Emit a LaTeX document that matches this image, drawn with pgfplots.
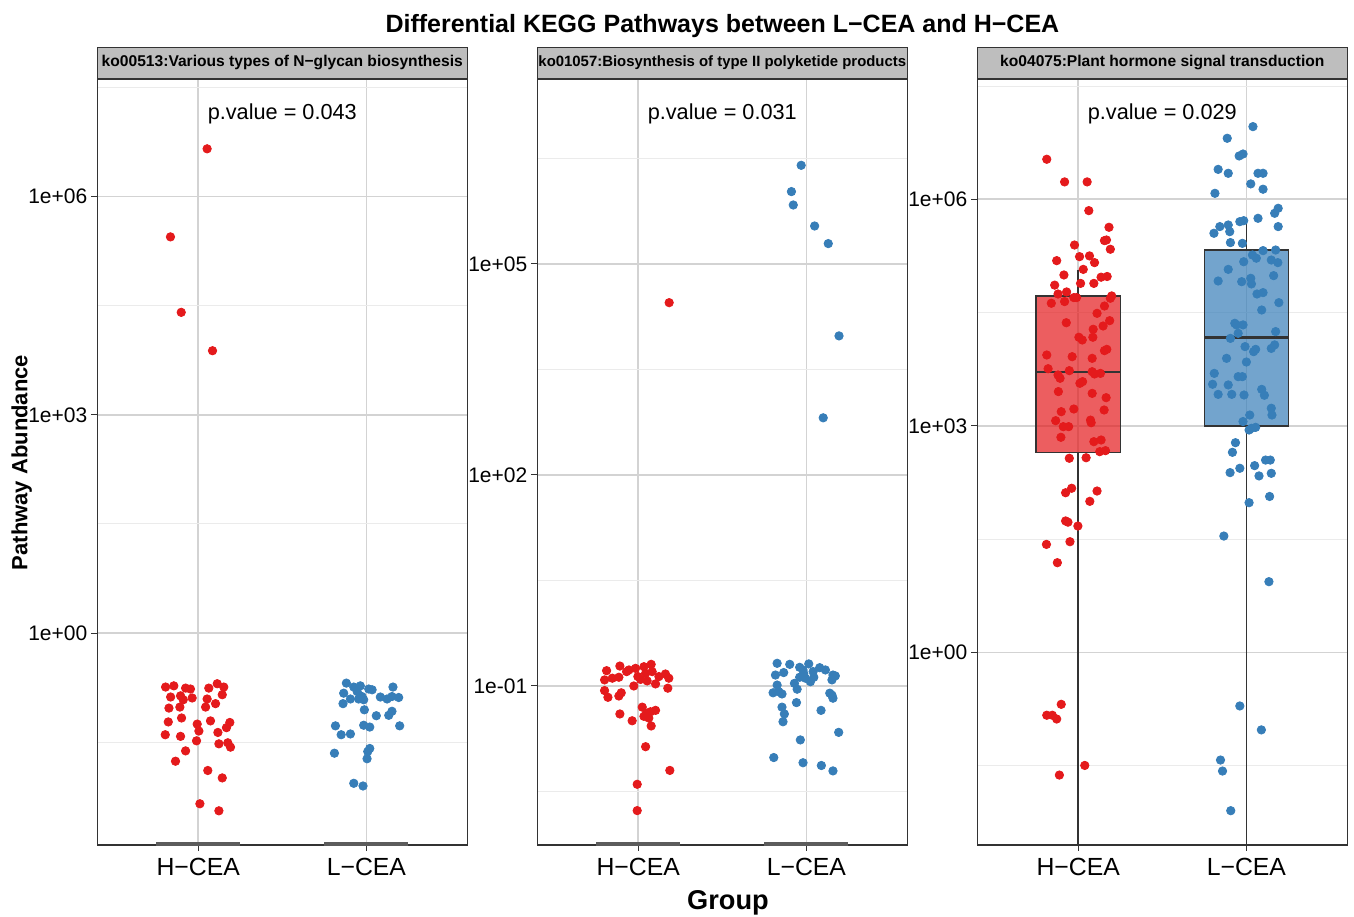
\documentclass[border=0pt]{standalone}
\usepackage{fontspec}
\setmainfont{Liberation Sans}
\usepackage{pgfplots}
\pgfplotsset{compat=1.18}
\definecolor{cred}{HTML}{E41A1C}
\definecolor{cblue}{HTML}{377EB8}
\definecolor{dk}{HTML}{333333}
\definecolor{gmaj}{HTML}{D3D3D3}
\definecolor{gmin}{HTML}{EBEBEB}
\definecolor{stripgray}{HTML}{BEBEBE}
\pgfplotsset{
  facet/.style={
    scale only axis, width=185pt, height=383pt,
    anchor=south west,
    xmin=0.4, xmax=2.6,
    xtick={1,2}, xticklabels={H−CEA,L−CEA},
    tick pos=left,
    axis line style={draw=dk, line width=0.6pt},
    tick align=outside, major tick length=3pt, minor tick length=0pt,
    tick style={draw=dk, line width=0.5pt},
    xmajorgrids, ymajorgrids, yminorgrids,
    major grid style={draw=gmaj, line width=0.8pt},
    minor grid style={draw=gmin, line width=0.5pt},
    xticklabel style={font=\fontsize{12.4}{14}\selectfont, text=black},
    yticklabel style={font=\fontsize{10.5}{12}\selectfont, text=black, xshift=1.5pt},
  },
  pts/.style={only marks, mark=*, mark size=2.1pt, line width=0.4pt},
}
\tikzset{strip/.style={draw=dk, line width=0.6pt, fill=stripgray, minimum width=185pt, minimum height=15.5pt, inner sep=0pt, anchor=south, text=black}}
\begin{document}
\begin{tikzpicture}
\useasboundingbox (0pt,0pt) rectangle (677pt,458pt);
% ---------------- Panel 1 ----------------
\begin{axis}[ymode=log, facet, name=p1, at={(48.65pt,35.5pt)},
  ymin=1.22e-3, ymax=4.13e7,
  ytick={1,1000,1e6}, yticklabels={1e+00,1e+03,1e+06},
  minor ytick={3.162e-2,31.62,3.162e4,3.162e7}]
\addplot[dk!80, line width=2.6pt] coordinates {(0.75,1.22e-3) (1.25,1.22e-3)};
\addplot[dk!80, line width=2.6pt] coordinates {(1.75,1.22e-3) (2.25,1.22e-3)};
\addplot[pts, cred] coordinates {(0.806,1.81e-1) (0.855,1.88e-1) (0.836,1.32e-1) (0.895,1.37e-1) (0.925,1.75e-1) (0.954,1.70e-1) (0.964,1.28e-1) (1.063,1.75e-1) (1.113,2.01e-1) (1.152,1.81e-1) (1.143,1.42e-1) (1.103,1.07e-1) (1.053,1.24e-1) (1.044,9.6e-2) (0.826,9.3e-2) (0.891,9.6e-2) (0.911,1.21e-1) (0.822,6.0e-2) (0.901,6.8e-2) (0.994,5.6e-2) (1.004,4.5e-2) (1.073,6.2e-2) (1.168,5.0e-2) (1.188,5.9e-2) (1.117,4.3e-2) (0.804,4.0e-2) (0.895,3.8e-2) (0.990,3.3e-2) (1.123,3.0e-2) (1.176,3.1e-2) (1.192,2.7e-2) (0.925,2.4e-2) (0.865,1.73e-2) (1.057,1.29e-2) (1.143,1.02e-2) (1.010,4.5e-3) (1.123,3.6e-3) (1.053,4.53e6) (0.835,2.79e5) (0.899,2.56e4) (1.085,7.6e3)};
\addplot[pts, cblue] coordinates {(1.881,2.05e-1) (1.865,1.49e-1) (1.925,1.81e-1) (1.945,1.57e-1) (1.954,1.24e-1) (1.905,1.24e-1) (1.974,1.34e-1) (2.014,1.70e-1) (2.034,1.66e-1) (1.984,1.21e-1) (1.964,1.88e-1) (2.083,1.32e-1) (2.123,1.24e-1) (2.158,1.81e-1) (2.152,1.34e-1) (2.192,1.30e-1) (1.861,1.07e-1) (1.988,8.8e-2) (2.059,7.3e-2) (2.133,7.4e-2) (2.152,8.4e-2) (1.816,5.3e-2) (1.850,4.0e-2) (1.905,4.1e-2) (1.984,5.4e-2) (2.020,5.1e-2) (2.198,5.3e-2) (1.810,2.23e-2) (2.020,2.59e-2) (2.008,2.35e-2) (2.004,1.87e-2) (1.925,8.6e-3) (1.980,7.9e-3)};
\node[font=\fontsize{10.85}{13}\selectfont] at (axis cs:1.5,1.36e7) {p.value = 0.043};
\end{axis}
% ---------------- Panel 2 ----------------
\begin{axis}[ymode=log, facet, name=p2, at={(268.65pt,35.5pt)},
  ymin=5.48e-4, ymax=4.27e7,
  ytick={0.1,100,1e5}, yticklabels={1e-01,1e+02,1e+05},
  minor ytick={3.162e-3,3.162,3162,3.162e6}]
\addplot[dk!80, line width=2.6pt] coordinates {(0.75,5.48e-4) (1.25,5.48e-4)};
\addplot[dk!80, line width=2.6pt] coordinates {(1.75,5.48e-4) (2.25,5.48e-4)};
\addplot[pts, cred] coordinates {(0.812,1.65e-1) (0.800,1.22e-1) (0.846,1.29e-1) (0.885,1.33e-1) (0.891,1.92e-1) (0.931,1.60e-1) (0.984,1.78e-1) (0.998,1.36e-1) (1.034,1.88e-1) (1.044,1.51e-1) (1.077,2.03e-1) (1.083,1.60e-1) (1.053,1.18e-1) (1.103,1.07e-1) (1.162,1.48e-1) (1.182,1.29e-1) (1.176,9.3e-2) (0.800,8.6e-2) (0.820,6.9e-2) (0.885,7.2e-2) (0.899,8.0e-2) (0.974,1.0e-1) (1.014,1.24e-1) (1.024,5.0e-2) (1.050,4.1e-2) (1.073,4.3e-2) (1.103,4.5e-2) (1.063,3.5e-2) (1.077,2.7e-2) (0.891,4.0e-2) (0.964,3.2e-2) (1.044,1.37e-2) (1.188,6.3e-3) (0.994,4.0e-3) (0.994,1.69e-3) (0.945,1.69e-1) (1.123,1.36e-1) (1.034,3.7e-2) (1.184,2.82e4)};
\addplot[pts, cblue] coordinates {(1.826,2.10e-1) (1.901,2.03e-1) (1.816,1.43e-1) (1.865,1.55e-1) (1.960,1.84e-1) (1.980,1.69e-1) (2.014,2.06e-1) (2.040,1.60e-1) (2.079,1.82e-1) (2.113,1.69e-1) (2.158,1.43e-1) (2.172,1.39e-1) (2.152,1.22e-1) (1.960,1.33e-1) (1.994,1.29e-1) (2.024,1.15e-1) (1.929,1.09e-1) (1.945,9.0e-2) (1.826,1.03e-1) (1.802,8.0e-2) (1.836,8.3e-2) (1.855,7.7e-2) (2.139,7.9e-2) (2.158,6.7e-2) (2.152,7.4e-2) (1.941,5.8e-2) (1.855,5.0e-2) (1.869,4.0e-2) (1.861,3.1e-2) (2.087,4.5e-2) (2.192,2.19e-2) (1.964,1.71e-2) (1.806,9.6e-3) (1.980,8.1e-3) (2.089,7.4e-3) (2.158,6.2e-3) (1.984,1.51e-1) (2.044,1.33e-1) (1.969,2.53e6) (1.911,1.07e6) (1.922,6.9e5) (2.049,3.47e5) (2.130,1.95e5) (2.194,9.5e3) (2.100,6.5e2)};
\node[font=\fontsize{10.85}{13}\selectfont] at (axis cs:1.5,1.36e7) {p.value = 0.031};
\end{axis}
% ---------------- Panel 3 ----------------
\begin{axis}[ymode=log, facet, name=p3, at={(488.65pt,35.5pt)},
  ymin=2.81e-3, ymax=3.92e7,
  ytick={1,1000,1e6}, yticklabels={1e+00,1e+03,1e+06},
  minor ytick={3.162e-2,31.62,3.162e4,3.162e7}]
\addplot[dk, line width=0.75pt] coordinates {(1,5.25e4) (1,1.16e5)};
\addplot[dk, line width=0.75pt] coordinates {(1,4.44e2) (1,1e-3)};
\addplot[dk, line width=0.75pt] coordinates {(2,2.13e5) (2,5.2e5)};
\addplot[dk, line width=0.75pt] coordinates {(2,1.0e3) (2,1e-3)};
\addplot[draw=dk, line width=0.75pt, fill=cred, fill opacity=0.7] coordinates {(0.75,4.44e2) (1.25,4.44e2) (1.25,5.25e4) (0.75,5.25e4)} -- cycle;
\addplot[draw=dk, line width=0.75pt, fill=cblue, fill opacity=0.7] coordinates {(1.75,1.0e3) (2.25,1.0e3) (2.25,2.13e5) (1.75,2.13e5)} -- cycle;
\addplot[dk, line width=1.4pt] coordinates {(0.75,5.16e3) (1.25,5.16e3)};
\addplot[dk, line width=1.4pt] coordinates {(1.75,1.49e4) (2.25,1.49e4)};
\addplot[pts, cred] coordinates {(0.813,3.39e6) (0.919,1.70e6) (1.053,1.70e6) (1.063,7.08e5) (1.183,4.26e5) (0.978,2.48e5) (1.156,2.84e5) (1.168,2.89e5) (1.191,2.18e5) (1.008,1.74e5) (1.067,1.78e5) (1.097,1.45e5) (0.872,1.54e5) (1.030,1.18e5) (0.915,9.95e4) (1.014,7.7e4) (1.093,7.7e4) (1.136,9.3e4) (1.172,9.5e4) (0.860,7.3e4) (0.880,5.57e4) (0.931,5.93e4) (0.974,4.99e4) (0.990,4.99e4) (1.199,5.25e4) (1.191,4.89e4) (0.840,4.20e4) (0.919,4.42e4) (1.156,3.86e4) (1.112,3.09e4) (0.929,2.32e4) (1.187,2.47e4) (1.148,2.10e4) (1.089,1.90e4) (1.004,1.49e4) (1.024,1.37e4) (1.087,1.49e4) (0.813,8.67e3) (0.964,8.24e3) (1.083,7.83e3) (1.156,9.9e3) (1.170,1.03e4) (0.821,5.71e3) (0.947,5.38e3) (1.083,5.21e3) (1.097,4.86e3) (1.132,4.95e3) (0.880,4.71e3) (0.892,4.26e3) (1.010,3.66e3) (1.026,3.85e3) (0.882,2.84e3) (1.083,2.69e3) (1.166,2.36e3) (0.899,1.54e3) (0.974,1.67e3) (1.154,1.62e3) (0.866,1.17e3) (1.073,1.19e3) (1.077,1.10e3) (0.911,9.75e2) (0.943,9.75e2) (0.897,7.05e2) (1.093,6.17e2) (1.136,6.49e2) (1.128,4.55e2) (1.162,4.69e2) (0.947,3.72e2) (1.047,3.78e2) (0.925,1.30e2) (0.961,1.49e2) (1.112,1.37e2) (1.069,1.00e2) (0.925,5.5e1) (0.939,5.3e1) (0.998,4.71e1) (0.811,2.69e1) (0.951,2.92e1) (0.876,1.54e1) (0.899,2.05e-1) (0.813,1.47e-1) (0.846,1.47e-1) (0.872,1.31e-1) (1.039,3.18e-2) (0.888,2.37e-2)};
\addplot[pts, cblue] coordinates {(2.039,9.17e6) (1.886,6.43e6) (1.957,3.75e6) (1.980,3.98e6) (1.832,2.49e6) (1.892,2.21e6) (2.069,2.21e6) (2.099,2.21e6) (2.026,1.60e6) (2.099,1.36e6) (1.813,1.20e6) (2.189,7.60e5) (2.168,6.53e5) (2.069,5.60e5) (1.961,5.06e5) (1.984,5.21e5) (1.892,4.57e5) (1.842,4.35e5) (1.807,3.55e5) (1.901,3.73e5) (2.189,4.35e5) (1.905,2.67e5) (1.976,2.61e5) (2.099,2.09e5) (2.036,1.83e5) (2.059,1.66e5) (2.148,1.57e5) (2.174,2.13e5) (2.187,1.45e5) (1.984,1.49e5) (1.892,1.18e5) (1.832,8.28e4) (1.972,8.11e4) (2.026,8.99e4) (2.030,7.57e4) (2.162,9.75e4) (2.063,5.57e4) (2.099,5.81e4) (2.193,4.28e4) (2.091,3.42e4) (1.931,2.28e4) (1.941,2.17e4) (1.980,2.17e4) (2.174,1.77e4) (1.951,1.68e4) (1.905,1.44e4) (1.992,1.12e4) (2.055,1.03e4) (2.043,9.6e3) (2.168,1.18e4) (2.148,1.06e4) (1.882,7.83e3) (2.000,7.0e3) (1.809,4.95e3) (1.951,4.48e3) (1.976,4.48e3) (1.799,3.55e3) (1.892,3.48e3) (1.832,2.61e3) (1.913,2.61e3) (1.986,2.56e3) (2.091,3.04e3) (2.107,2.54e3) (2.148,1.71e3) (2.152,1.39e3) (2.020,1.39e3) (1.980,1.14e3) (2.030,9.27e2) (2.055,9.55e2) (2.016,8.81e2) (1.935,5.98e2) (1.917,4.46e2) (1.903,2.40e2) (1.961,2.74e2) (2.049,2.97e2) (2.075,2.17e2) (2.148,2.35e2) (2.114,3.52e2) (2.142,3.52e2) (2.016,9.6e1) (2.138,1.16e2) (1.866,3.47e1) (2.134,8.63) (1.961,1.95e-1) (2.089,9.4e-2) (1.846,3.75e-2) (1.858,2.68e-2) (1.907,8.0e-3)};
\node[font=\fontsize{10.85}{13}\selectfont] at (axis cs:1.5,1.36e7) {p.value = 0.029};
\end{axis}
% ---------------- strips ----------------
\node[strip, font=\bfseries\fontsize{7.8}{9}\selectfont] at (p1.north) {ko00513:Various types of N−glycan biosynthesis};
\node[strip, font=\bfseries\fontsize{7.45}{9}\selectfont] at (p2.north) {ko01057:Biosynthesis of type II polyketide products};
\node[strip, font=\bfseries\fontsize{7.8}{9}\selectfont] at (p3.north) {ko04075:Plant hormone signal transduction};
% ---------------- titles ----------------
\node[anchor=base, font=\bfseries\fontsize{12.5}{15}\selectfont] at (361.2pt,441.8pt) {Differential KEGG Pathways between L−CEA and H−CEA};
\node[anchor=base, font=\bfseries\fontsize{13.6}{16}\selectfont] at (364pt,3.35pt) {Group};
\node[anchor=base, rotate=90, font=\bfseries\fontsize{11}{13}\selectfont] at (13.65pt,226.75pt) {Pathway Abundance};
\end{tikzpicture}
\end{document}
